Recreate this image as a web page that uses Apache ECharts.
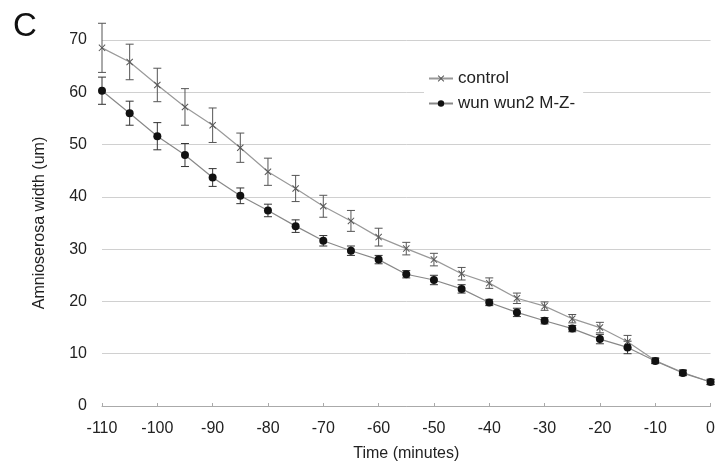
<!DOCTYPE html>
<html><head><meta charset="utf-8">
<script src="https://cdn.jsdelivr.net/npm/echarts@6/dist/echarts.min.js"></script>
<style>html,body{margin:0;padding:0;background:#fff}#c{width:718px;height:470px}</style>
</head><body><div id="c"></div>
<script>
const times = [-110,-105,-100,-95,-90,-85,-80,-75,-70,-65,-60,-55,-50,-45,-40,-35,-30,-25,-20,-15,-10,-5,0];
const controlMean = [68.5,65.8,61.4,57.2,53.7,49.4,44.8,41.6,38.2,35.4,32.3,30.1,28.0,25.3,23.5,20.6,19.1,16.7,15.0,12.3,8.7,6.4,4.6];
const controlErr  = [4.7,3.4,3.2,3.5,3.3,2.8,2.6,2.5,2.1,2.0,1.7,1.2,1.2,1.2,1.0,1.0,0.8,0.8,1.0,1.2,0.5,0.5,0.5];
const wunMean = [60.3,56.0,51.6,48.0,43.7,40.2,37.4,34.4,31.6,29.7,28.0,25.2,24.1,22.4,19.8,17.9,16.3,14.8,12.8,11.2,8.6,6.3,4.6];
const wunErr  = [2.6,2.3,2.6,2.2,1.7,1.5,1.2,1.2,1.0,0.9,0.8,0.7,0.9,0.8,0.6,0.8,0.6,0.6,0.9,1.2,0.5,0.5,0.5];
const seriesNames = ['control','wun wun2 M-Z-'];

const xSym = 'path://M0,1 L1,0 L5,4 L9,0 L10,1 L6,5 L10,9 L9,10 L5,6 L1,10 L0,9 L4,5 Z';

function errData(mean, err){ return times.map((t,i)=>[t, mean[i]-err[i], mean[i]+err[i]]); }
function errRender(color){
  return function(params, api){
    const x = api.value(0);
    const lo = api.coord([x, api.value(1)]);
    const hi = api.coord([x, api.value(2)]);
    const w = 4;
    const st = {stroke: color, lineWidth: 1};
    return {type:'group', children:[
      {type:'line', shape:{x1:lo[0], y1:lo[1], x2:hi[0], y2:hi[1]}, style:st},
      {type:'line', shape:{x1:lo[0]-w, y1:lo[1], x2:lo[0]+w, y2:lo[1]}, style:st},
      {type:'line', shape:{x1:hi[0]-w, y1:hi[1], x2:hi[0]+w, y2:hi[1]}, style:st}
    ]};
  };
}

const chart = echarts.init(document.getElementById('c'), null, {renderer:'canvas'});
const font = 'Liberation Sans, Arial, Helvetica, sans-serif';
chart.setOption({
  animation: false,
  backgroundColor: '#fff',
  textStyle: {fontFamily: font},
  title: {text: 'C', left: 8, top: 5, textStyle: {fontSize: 33, fontWeight: 'normal', color: '#111', fontFamily: font}},
  grid: {left: 102, right: 7, top: 40, bottom: 64, containLabel: false},
  legend: {
    data: seriesNames, orient: 'vertical', left: 424, top: 68, itemGap: 8,
    itemWidth: 24, itemHeight: 8, backgroundColor: '#fff', padding: [2,8,2,4],
    textStyle: {fontSize: 17, color: '#222', fontFamily: font}
  },
  xAxis: {
    type: 'value', min: -110, max: 0, interval: 10,
    name: 'Time (minutes)', nameLocation: 'middle', nameGap: 40,
    nameTextStyle: {fontSize: 16, color: '#222'},
    axisLine: {show: true, onZero: false, lineStyle: {color: '#aaa', width: 1}},
    axisTick: {show: true, length: 3, inside: true, lineStyle: {color: '#aaa'}},
    axisLabel: {fontSize: 16, color: '#222', margin: 15},
    splitLine: {show: false}
  },
  yAxis: {
    type: 'value', min: 0, max: 70, interval: 10,
    name: 'Amnioserosa width (um)', nameLocation: 'middle', nameGap: 54,
    nameTextStyle: {fontSize: 16, color: '#222'},
    axisLine: {show: false}, axisTick: {show: false},
    axisLabel: {fontSize: 16, color: '#222', margin: 15},
    splitLine: {show: true, lineStyle: {color: '#d0d0d0', width: 1}}
  },
  series: [
    {type:'custom', name:'controlErr', renderItem: errRender('#555'), data: errData(controlMean, controlErr), z: 3, silent: true, clip: false},
    {type:'custom', name:'wunErr', renderItem: errRender('#333'), data: errData(wunMean, wunErr), z: 3, silent: true, clip: false},
    {type:'line', name: seriesNames[0], data: times.map((t,i)=>[t, controlMean[i]]),
      symbol: xSym, symbolSize: 7, showSymbol: true,
      lineStyle: {color: '#999', width: 1.2}, itemStyle: {color: '#555'}, z: 4},
    {type:'line', name: seriesNames[1], data: times.map((t,i)=>[t, wunMean[i]]),
      symbol: 'circle', symbolSize: 8, showSymbol: true,
      lineStyle: {color: '#888', width: 1.2}, itemStyle: {color: '#111'}, z: 5}
  ]
});
</script></body></html>
